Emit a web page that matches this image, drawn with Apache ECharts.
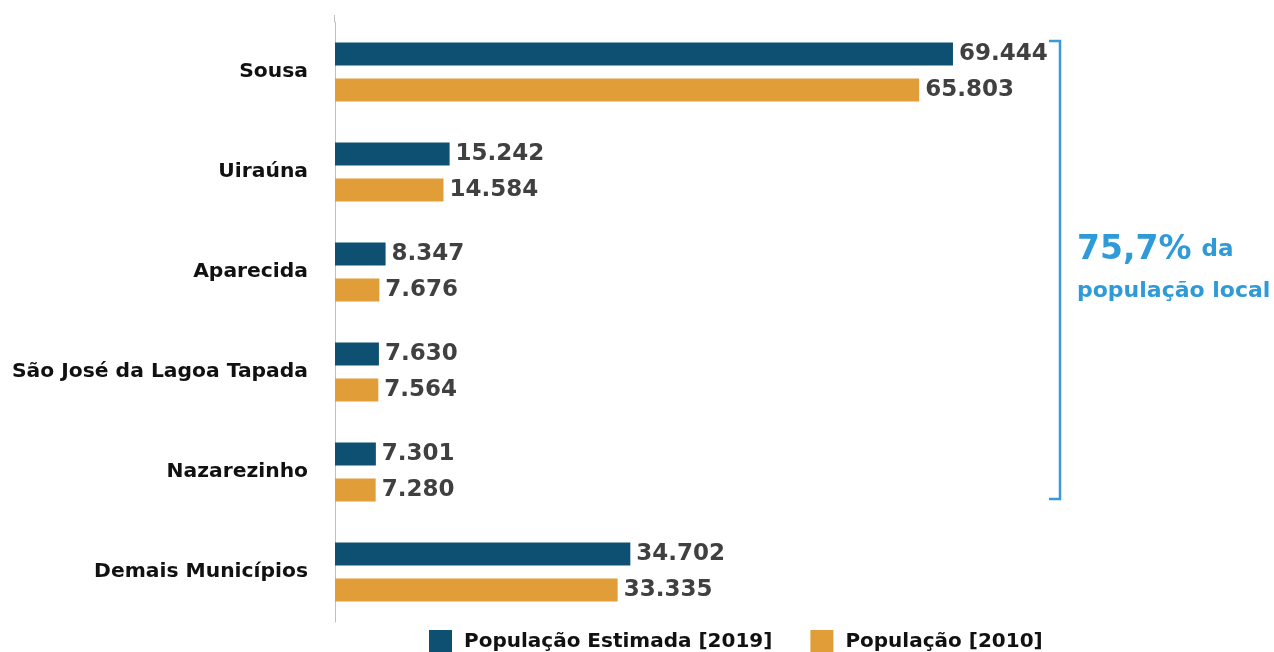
<!DOCTYPE html>
<html>
<head>
<meta charset="utf-8">
<script src="https://cdn.jsdelivr.net/npm/echarts@6/dist/echarts.min.js"></script>
<style>
  html, body { margin: 0; padding: 0; background: #fff; }
  #chart { width: 1274px; height: 652px; }
</style>
</head>
<body>
<div id="chart"></div>
<script>
// dados
const municipios = ['Sousa', 'Uiraúna', 'Aparecida', 'São José da Lagoa Tapada', 'Nazarezinho', 'Demais Municípios']
const pop2019 = [69444, 15242, 8347, 7630, 7301, 34702]
const pop2010 = [65803, 14584, 7676, 7564, 7280, 33335]
const nomes = ['População Estimada [2019]', 'População [2010]']

const AZUL = '#0d5072'
const LARANJA = '#e09d38'
const FONTE = '"DejaVu Sans", sans-serif'

function milhar (v) {
    return String(v).replace(/\B(?=(\d{3})+(?!\d))/g, '.')
}

const chart = echarts.init(document.getElementById('chart'))

function serie (nome, dados, cor) {
    return {
        name: nome,
        type: 'bar',
        data: dados,
        barWidth: 23,
        barGap: '56%',
        itemStyle: { color: cor },
        label: {
            show: true,
            position: 'right',
            distance: 6,
            color: '#404040',
            fontFamily: FONTE,
            fontWeight: 'bold',
            fontSize: 23,
            formatter: p => milhar(p.value)
        }
    }
}

chart.setOption({
    animation: false,
    grid: { left: 335, right: 223, top: 22, height: 600 },
    xAxis: {
        type: 'value',
        min: 2900,
        max: 80000,
        show: false
    },
    yAxis: {
        type: 'category',
        inverse: true,
        data: municipios,
        axisLine: { lineStyle: { color: '#c0c0c0', width: 1 } },
        axisTick: { show: false },
        axisLabel: {
            margin: 27,
            color: '#111',
            fontFamily: FONTE,
            fontWeight: 'bold',
            fontSize: 20.3
        }
    },
    legend: {
        data: nomes,
        left: 424,
        top: 625,
        icon: 'rect',
        itemWidth: 23,
        itemHeight: 23,
        itemGap: 38,
        textStyle: {
            color: '#111',
            fontFamily: FONTE,
            fontWeight: 'bold',
            fontSize: 20,
            padding: [0, 0, 0, 7]
        }
    },
    graphic: [
        {
            // eixo sobe um pouco acima da grade
            type: 'line',
            shape: { x1: 334.5, y1: 15, x2: 334.5, y2: 22 },
            style: { stroke: '#c0c0c0', lineWidth: 1 }
        },
        {
            type: 'polyline',
            shape: { points: [[1049, 41], [1060, 41], [1060, 499], [1049, 499]] },
            style: { stroke: '#3a9ad9', lineWidth: 2.5, fill: null }
        },
        {
            type: 'text',
            left: 1077,
            top: 234,
            style: {
                text: '{a|75,7%}{c|da}\n{b|população local}',
                rich: {
                    a: { fontFamily: FONTE, fontWeight: 'bold', fontSize: 33, fill: '#2e9ad8', lineHeight: 52 },
                    c: { fontFamily: FONTE, fontWeight: 'bold', fontSize: 23, fill: '#2e9ad8', padding: [0, 0, 0, 10] },
                    b: { fontFamily: FONTE, fontWeight: 'bold', fontSize: 22, fill: '#2e9ad8', lineHeight: 30 }
                }
            }
        }
    ],
    series: [
        serie(nomes[0], pop2019, AZUL),
        serie(nomes[1], pop2010, LARANJA)
    ]
})
</script>
</body>
</html>
